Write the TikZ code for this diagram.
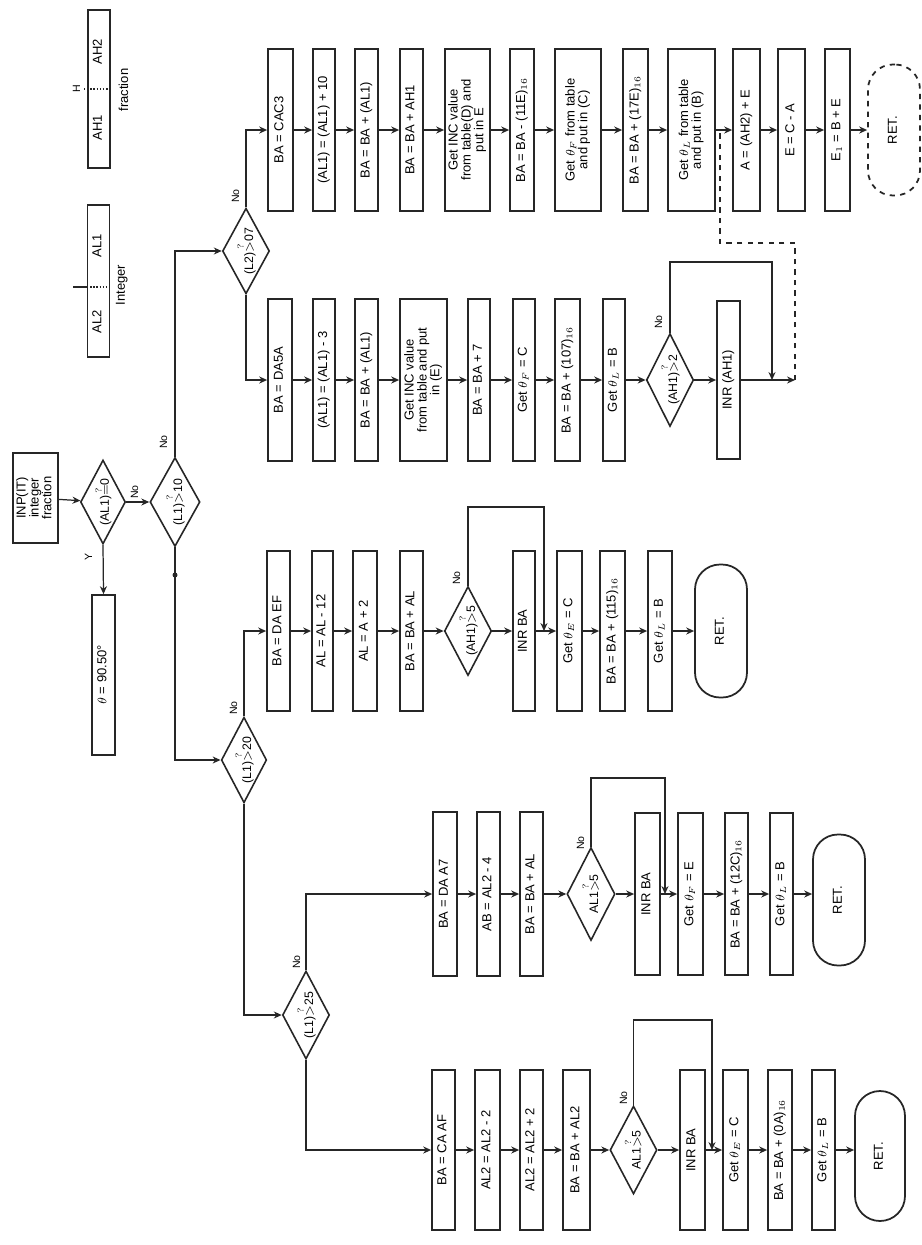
\documentclass[tikz,border=0pt]{standalone}
\usepackage{fontspec}
\setmainfont{Liberation Sans}
\usepackage{graphicx}
\usepackage{amsmath}
\usetikzlibrary{shapes.geometric,arrows.meta,calc}
\newcommand\R[1]{\rotatebox{90}{\begin{tabular}{@{}c@{}}#1\end{tabular}}}
\renewcommand\arraystretch{0.85}
\tikzset{
 sz/.style 2 args={minimum width=#1*0.02cm, minimum height=#2*0.02cm},
 box/.style={draw=black!85, line width=1pt, rectangle, inner sep=0pt, font=\fontsize{7.4}{7.6}\selectfont},
 dec/.style={draw=black!85, line width=0.9pt, diamond, aspect=0.53, inner sep=0pt, font=\fontsize{7}{7.4}\selectfont},
 term/.style={box, rounded corners=0.5cm},
 conn/.style={draw=black!85, line width=0.7pt, -{Stealth[length=4.5pt,width=4pt]}},
 plain/.style={draw=black!85, line width=0.7pt},
 lbl/.style={font=\fontsize{6}{6.5}\selectfont, inner sep=0pt},
 txt/.style={font=\fontsize{7.4}{7.6}\selectfont, inner sep=0pt}
}
\begin{document}
\begin{tikzpicture}[x=0.02cm,y=-0.02cm]
\fill[white] (0,0) rectangle (921,1245);
\useasboundingbox (0,0) rectangle (921,1245);

% legends
\node[box, line width=0.8pt, sz={22}{158}] (LF) at (99,89) {};
\node[txt] (LFa) at (99,52) {\R{AH2}};
\node[txt] (LFb) at (99,128) {\R{AH1}};
\draw[black!85, densely dotted, line width=0.8pt] (84,89) -- (110,89);
\node[lbl] (LFh) at (78,89) {\R{H}};
\node[txt] (LFt) at (125,90) {\R{fraction}};
\node[box, line width=0.8pt, sz={22}{152}] (LI) at (98.5,281) {};
\node[txt] (LIa) at (98.5,246) {\R{AL1}};
\node[txt] (LIb) at (98.5,322) {\R{AL2}};
\draw[black!85, densely dotted, line width=0.8pt] (87,287) -- (110,287);
\draw[black!85, line width=0.8pt] (73,287) -- (87,287);
\node[txt] (LIt) at (122,285) {\R{Integer}};

% spine
\node[box, sz={45}{90}] (S) at (35.5,498) {\R{INP(IT)\\integer\\fraction}};
\node[dec, sz={45}{84}] (D1) at (103,502) {\R{(AL1)$\overset{?}{=}$0}};
\node[box, sz={23}{160}] (Q) at (103.5,675) {\R{$\theta$ = 90.50°}};
\node[dec, sz={50}{89}] (D2) at (175,502) {\R{(L1)$\overset{?}{>}$10}};
\node[dec, sz={47}{85}] (D3) at (246,251) {\R{(L2)$\overset{?}{>}$07}};
\node[dec, sz={45}{84}] (D4) at (244,760) {\R{(L1)$\overset{?}{>}$20}};
\node[dec, sz={47}{88}] (D5) at (306,1015) {\R{(L1)$\overset{?}{>}$25}};

% row 1
\node[box, sz={25}{162}] (a1) at (280.5,130) {\R{BA = CAC3}};
\node[box, sz={22}{162}] (a2) at (324,130) {\R{(AL1) = (AL1) + 10}};
\node[box, sz={23}{162}] (a3) at (366.5,130) {\R{BA = BA + (AL1)}};
\node[box, sz={23}{162}] (a4) at (411.5,130) {\R{BA = BA + AH1}};
\node[box, sz={45}{162}] (a5) at (467.5,130) {\R{Get INC value\\from table(D) and\\put in E}};
\node[box, sz={24}{162}] (a6) at (522,130) {\R{BA = BA - (11E)$_{16}$}};
\node[box, sz={46}{162}] (a7) at (578,130) {\R{Get $\theta_F$ from table\\and put in (C)}};
\node[box, sz={25}{162}] (a8) at (635.5,130) {\R{BA = BA + (17E)$_{16}$}};
\node[box, sz={47}{162}] (a9) at (691.5,130) {\R{Get $\theta_L$ from table\\and put in (B)}};
\node[box, sz={27}{162}] (a10) at (746.5,130) {\R{A = (AH2) + E}};
\node[box, sz={27}{162}] (a11) at (791.5,130) {\R{E = C - A}};
\node[box, sz={25}{162}] (a12) at (837.5,130) {\R{E$_1$ = B + E}};
\node[term, dashed, sz={52}{131}] (a13) at (894,130) {\R{RET.}};

% row 2
\node[box, sz={24}{162}] (b1) at (280,380) {\R{BA = DA5A}};
\node[box, sz={22}{162}] (b2) at (324,380) {\R{(AL1) = (AL1) - 3}};
\node[box, sz={23}{162}] (b3) at (366.5,380) {\R{BA = BA + (AL1)}};
\node[box, sz={47}{162}] (b4) at (423.5,380) {\R{Get INC value\\from table and put\\in (E)}};
\node[box, sz={22}{162}] (b5) at (479,380) {\R{BA = BA + 7}};
\node[box, sz={22}{162}] (b6) at (524,380) {\R{Get $\theta_F$ = C}};
\node[box, sz={25}{162}] (b7) at (567.5,380) {\R{BA = BA + (107)$_{16}$}};
\node[box, sz={22}{162}] (b8) at (614,380) {\R{Get $\theta_L$ = B}};
\node[dec, sz={45}{93}] (b9) at (670,380) {\R{(AH1)$\overset{?}{>}$2}};
\node[box, sz={23}{158}] (b10) at (728.5,380) {\R{INR (AH1)}};

% row 3
\node[box, sz={23}{160}] (c1) at (278.5,631) {\R{BA = DA EF}};
\node[box, sz={21}{160}] (c2) at (322.5,631) {\R{AL = AL - 12}};
\node[box, sz={24}{160}] (c3) at (365,631) {\R{AL = A + 2}};
\node[box, sz={23}{160}] (c4) at (411.5,631) {\R{BA = BA + AL}};
\node[dec, sz={47}{87}] (c5) at (468,631) {\R{(AH1)$\overset{?}{>}$5}};
\node[box, sz={22}{160}] (c6) at (524,631) {\R{INR BA}};
\node[box, sz={25}{160}] (c7) at (569.5,631) {\R{Get $\theta_E$ = C}};
\node[box, sz={25}{160}] (c8) at (612.5,631) {\R{BA = BA + (115)$_{16}$}};
\node[box, sz={24}{160}] (c9) at (660,631) {\R{Get $\theta_L$ = B}};
\node[term, sz={52}{133}] (c10) at (721,631) {\R{RET.}};

% row 4
\node[box, sz={24}{164}] (d1) at (445,894) {\R{BA = DA A7}};
\node[box, sz={23}{164}] (d2) at (488.5,894) {\R{AB = AL2 - 4}};
\node[box, sz={23}{164}] (d3) at (531.5,894) {\R{BA = BA + AL}};
\node[dec, sz={48}{93}] (d4) at (591,894) {\R{AL1$\overset{?}{>}$5}};
\node[box, sz={25}{162}] (d5) at (647.5,894) {\R{INR BA}};
\node[box, sz={25}{162}] (d6) at (690.5,894) {\R{Get $\theta_F$ = E}};
\node[box, sz={23}{162}] (d7) at (736.5,894) {\R{BA = BA + (12C)$_{16}$}};
\node[box, sz={23}{162}] (d8) at (781.5,894) {\R{Get $\theta_L$ = B}};
\node[term, sz={52}{131}] (d9) at (839,900) {\R{RET.}};

% row 5
\node[box, sz={23}{160}] (e1) at (443.5,1150) {\R{BA = CA AF}};
\node[box, sz={25}{160}] (e2) at (487.5,1150) {\R{AL2 = AL2 - 2}};
\node[box, sz={23}{160}] (e3) at (531.5,1150) {\R{AL2 = AL2 + 2}};
\node[box, sz={27}{160}] (e4) at (576.5,1150) {\R{BA = BA + AL2}};
\node[dec, sz={47}{88}] (e5) at (633.5,1150) {\R{AL1$\overset{?}{>}$5}};
\node[box, sz={25}{160}] (e6) at (692.5,1150) {\R{INR BA}};
\node[box, sz={25}{160}] (e7) at (735.5,1150) {\R{Get $\theta_E$ = C}};
\node[box, sz={24}{160}] (e8) at (780,1150) {\R{BA = BA + (0A)$_{16}$}};
\node[box, sz={23}{160}] (e9) at (823.5,1150) {\R{Get $\theta_L$ = B}};
\node[term, sz={50}{130}] (e10) at (880,1156) {\R{RET.}};

% spine connectors
\draw[conn] (S) -- (D1);
\draw[conn] (D1) -- (D2);
\draw[conn] (D1.south) -- (Q.north);
\draw[conn] (D2.north) |- (D3.west);
\draw[conn] (D2.south) |- (D4.west);
\fill[black!85] (175,575) circle[radius=0.05cm];
\draw[conn] (D3.north) |- (a1.west);
\draw[conn] (D3.south) |- (b1.west);
\draw[conn] (D4.north) |- (c1.west);
\draw[conn] (D4.south) |- (D5.west);
\draw[conn] (D5.north) |- (d1.west);
\draw[conn] (D5.south) |- (e1.west);

% labels
\node[lbl] (nY) at (90,557) {\R{Y}};
\node[lbl] (n1) at (136,492) {\R{No}};
\node[lbl] (n2) at (165,442) {\R{No}};
\node[lbl] (n3) at (237,196) {\R{No}};
\node[lbl] (n4) at (235,708) {\R{No}};
\node[lbl] (n5) at (298,962) {\R{No}};
\node[lbl] (n6) at (660,322) {\R{No}};
\node[lbl] (n7) at (458,578) {\R{No}};
\node[lbl] (n8) at (582,843) {\R{No}};
\node[lbl] (n9) at (625,1098) {\R{No}};

% row connectors
\foreach \p/\q in {a1/a2,a2/a3,a3/a4,a4/a5,a5/a6,a6/a7,a7/a8,a8/a9,a9/a10,a10/a11,a11/a12,a12/a13,
  b1/b2,b2/b3,b3/b4,b4/b5,b5/b6,b6/b7,b7/b8,b8/b9,b9/b10,
  c1/c2,c2/c3,c3/c4,c4/c5,c5/c6,c6/c7,c7/c8,c8/c9,c9/c10,
  d1/d2,d2/d3,d3/d4,d4/d5,d5/d6,d6/d7,d7/d8,
  e1/e2,e2/e3,e3/e4,e4/e5,e5/e6,e6/e7,e7/e8,e8/e9}
  \draw[conn] (\p) -- (\q);
\draw[conn] (d8) -- (d9.west |- d8);
\draw[conn] (e9) -- (e10.west |- e9);

% row 2 loop and dashed link
\coordinate (j2) at (795,380);
\coordinate (t2) at (772,262);
\coordinate (k2) at (772,380);
\coordinate (u2) at (795,243);
\coordinate (v2) at (720,243);
\coordinate (w1) at (720,130);
\draw[conn] (b10) -- (j2);
\draw[conn] (b9.north) |- (t2) -- (k2);
\draw[plain, dashed, line width=0.9pt] (j2) -- (u2) -- (v2) -- (w1);

% loops
\coordinate (t3) at (544,507);
\coordinate (k3) at (544,631);
\draw[conn] (c5.north) |- (t3) -- (k3);
\coordinate (t4) at (665,778);
\coordinate (k4) at (665,894);
\draw[conn] (d4.north) |- (t4) -- (k4);
\coordinate (t5) at (712,1020);
\coordinate (k5) at (712,1150);
\draw[conn] (e5.north) |- (t5) -- (k5);
\end{tikzpicture}
\end{document}
